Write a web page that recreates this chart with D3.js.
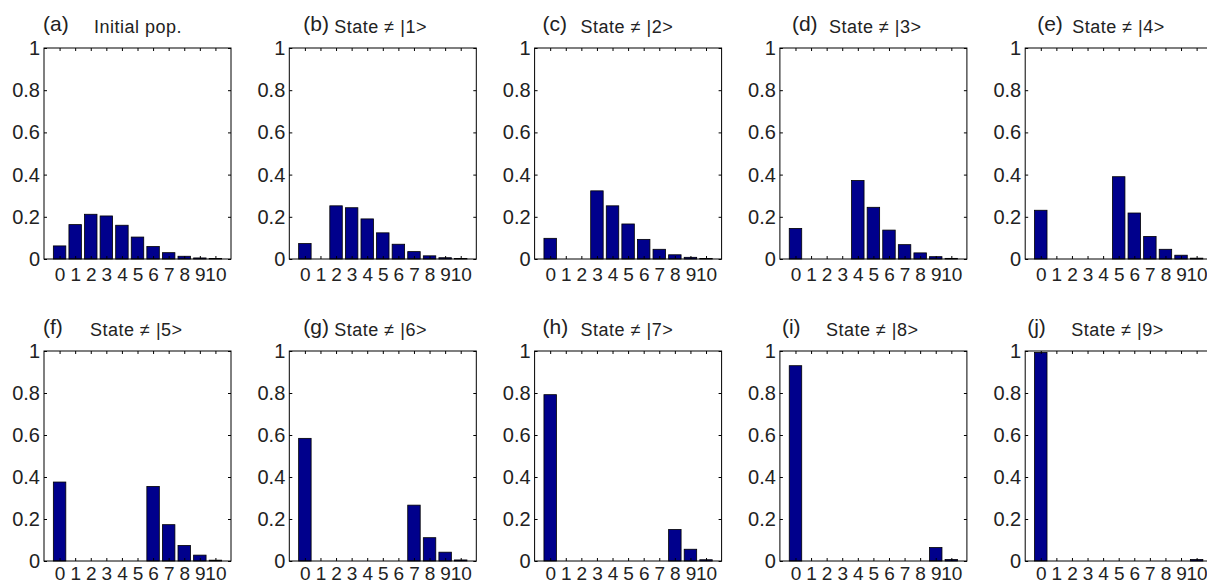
<!DOCTYPE html>
<html>
<head>
<meta charset="utf-8">
<script src="https://cdn.jsdelivr.net/npm/d3@7"></script>
<style>
  body { margin: 0; background: #fff; }
  svg text { font-family: "Liberation Sans", Arial, sans-serif; fill: #222; }
</style>
</head>
<body>
<div id="chart"></div>
<script>
// ---------Data----------
const states = [0, 1, 2, 3, 4, 5, 6, 7, 8, 9, 10];
const panelLetters = ["(a)", "(b)", "(c)", "(d)", "(e)", "(f)", "(g)", "(h)", "(i)", "(j)"];
const panelTitles = ["Initial pop.", "State \u2260 |1>", "State \u2260 |2>", "State \u2260 |3>", "State \u2260 |4>",
  "State \u2260 |5>", "State \u2260 |6>", "State \u2260 |7>", "State \u2260 |8>", "State \u2260 |9>"];
const yTicks = [0, 0.2, 0.4, 0.6, 0.8, 1];

// populations
const popA = [0.062, 0.163, 0.212, 0.204, 0.160, 0.104, 0.059, 0.030, 0.013, 0.005, 0.002];
const popB = [0.073, 0, 0.252, 0.243, 0.190, 0.124, 0.070, 0.035, 0.015, 0.006, 0.002];
const popC = [0.098, 0, 0, 0.323, 0.252, 0.166, 0.093, 0.046, 0.020, 0.008, 0.002];
const popD = [0.145, 0, 0, 0, 0.372, 0.245, 0.137, 0.068, 0.029, 0.011, 0.003];
const popE = [0.231, 0, 0, 0, 0, 0.390, 0.218, 0.107, 0.046, 0.018, 0.004];
const popF = [0.376, 0, 0, 0, 0, 0, 0.355, 0.173, 0.074, 0.028, 0.004];
const popG = [0.584, 0, 0, 0, 0, 0, 0, 0.266, 0.111, 0.042, 0.005];
const popH = [0.792, 0, 0, 0, 0, 0, 0, 0, 0.150, 0.056, 0.006];
const popI = [0.930, 0, 0, 0, 0, 0, 0, 0, 0, 0.064, 0.007];
const popJ = [0.993, 0, 0, 0, 0, 0, 0, 0, 0, 0, 0.007];
const populations = [popA, popB, popC, popD, popE, popF, popG, popH, popI, popJ];

// ---------Layout----------
const width = 1207, height = 585;
const panelW = 187;
const colStep = 245.3;
const leftStart = 44;
const rowTop = [48, 351];
const rowH = [211, 210];
const rowLabelPad = [9, 6];
// title offsets relative to the panel's left edge: [letter, title]
const titleOffsets = [[-1, 50], [14, 45], [8, 46], [12, 49], [12, 47],
  [-1, 46], [14, 45], [8, 46], [2, 46], [2, 46]];
const barColor = "rgb(0,0,140)";
const tickLen = 3;

const svg = d3.select("#chart")
  .append("svg")
  .attr("width", width)
  .attr("height", height);

populations.forEach((pop, p) => {
  const row = Math.floor(p / 5), col = p % 5;
  const left = leftStart + col * colStep;
  const top = rowTop[row];
  const h = rowH[row];

  const g = svg.append("g")
    .attr("transform", `translate(${left}, ${top})`);

  const x = d3.scaleLinear().domain([-1, 11]).range([0, panelW]);
  const y = d3.scaleLinear().domain([0, 1]).range([h, 0]);

  // bars
  g.selectAll(".bar")
    .data(pop)
    .enter()
    .append("rect")
    .attr("class", "bar")
    .attr("x", (d, i) => x(states[i] - 0.4))
    .attr("y", d => y(d))
    .attr("width", x(0.4) - x(-0.4))
    .attr("height", d => y(0) - y(d))
    .attr("fill", barColor)
    .attr("stroke", "#000")
    .attr("stroke-width", 0.8);

  // bottom axis with labels
  const xb = g.append("g")
    .attr("transform", `translate(0, ${h})`)
    .call(d3.axisBottom(x).tickValues(states).tickSize(-tickLen).tickSizeOuter(0).tickPadding(rowLabelPad[row]));
  xb.select(".domain").remove();
  xb.selectAll("text").style("font-size", "19px");

  // top ticks
  const xt = g.append("g")
    .call(d3.axisTop(x).tickValues(states).tickSize(-tickLen).tickSizeOuter(0).tickFormat(""));
  xt.select(".domain").remove();

  // left axis with labels
  const yl = g.append("g")
    .call(d3.axisLeft(y).tickValues(yTicks).tickSize(-tickLen).tickSizeOuter(0).tickPadding(4)
      .tickFormat(d3.format("~g")));
  yl.select(".domain").remove();
  yl.selectAll("text").style("font-size", "20px");

  // right ticks
  const yr = g.append("g")
    .attr("transform", `translate(${panelW}, 0)`)
    .call(d3.axisRight(y).tickValues(yTicks).tickSize(-tickLen).tickSizeOuter(0).tickFormat(""));
  yr.select(".domain").remove();

  // frame
  g.append("rect")
    .attr("width", panelW)
    .attr("height", h)
    .attr("fill", "none")
    .attr("stroke", "#000")
    .attr("stroke-width", 1);

  // titles
  g.append("text")
    .attr("x", titleOffsets[p][0])
    .attr("y", -17)
    .style("font-size", "21px")
    .text(panelLetters[p]);

  g.append("text")
    .attr("x", titleOffsets[p][1])
    .attr("y", -15)
    .style("font-size", "18px")
    .style("letter-spacing", "0.5px")
    .text(panelTitles[p]);
});
</script>
</body>
</html>
